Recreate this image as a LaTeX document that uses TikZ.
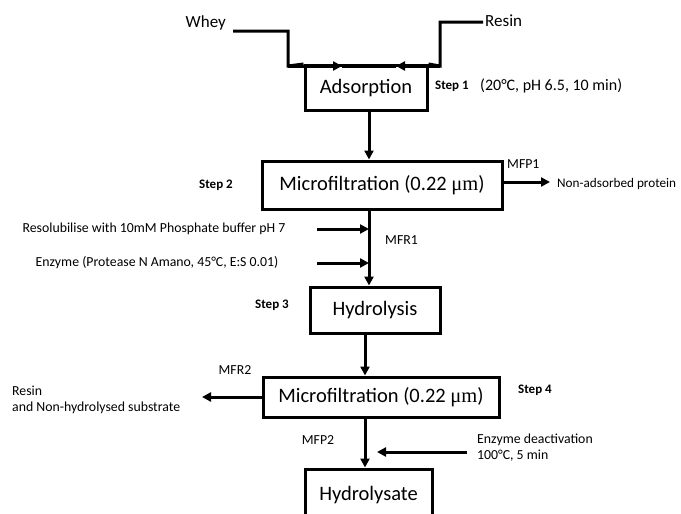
\documentclass[tikz,border=0pt]{standalone}
\usepackage{fontspec}
\setmainfont{Carlito}
\newfontfamily\serifmu{Liberation Serif}
\usetikzlibrary{arrows.meta}
\begin{document}
\begin{tikzpicture}[x=1pt,y=-1pt,
  box/.style={draw,line width=3pt,inner sep=0pt,font=\fontsize{20.5}{22}\selectfont},
  side/.style={inner sep=0pt,font=\fontsize{13.8}{16}\selectfont},
  steplbl/.style={inner sep=0pt,font=\bfseries\fontsize{13}{15}\selectfont},
  line/.style={line width=3pt},
  arr/.style={line width=3pt,-{Triangle[length=9pt,width=9pt]}}]
\useasboundingbox (0,0) rectangle (681,514);
% axes
\coordinate (axA) at (369,0);
\coordinate (axB) at (365,0);
% boxes
\node[box,minimum width=122,minimum height=45] (ads) at (366,88) {Adsorption};
\node[box,minimum width=240,minimum height=48] (mf1) at (382,185) {Microfiltration (0.22 {\serifmu μm})};
\node[box,minimum width=130,minimum height=46] (hyd) at (375,310) {Hydrolysis};
\node[box,minimum width=236,minimum height=40] (mf2) at (381,397) {Microfiltration (0.22 {\serifmu μm})};
\node[box,minimum width=127,minimum height=60] (hl) at (368.5,499) {};
\node[inner sep=0pt,font=\fontsize{20.5}{22}\selectfont] (hltxt) at (368.5,495) {Hydrolysate};
% inputs
\node[side,font=\fontsize{17}{19}\selectfont,anchor=east] (whey) at (226,23) {Whey};
\node[side,font=\fontsize{17}{19}\selectfont,anchor=west] (resin) at (485,21) {Resin};
\coordinate (w0) at (233,31);
\coordinate (w1) at (288,31);
\coordinate (w2) at (288,66);
\coordinate (wa) at (342,66);
\coordinate (r0) at (483,22);
\coordinate (r1) at (440,22);
\coordinate (r2) at (440,66);
\coordinate (ra) at (396,66);
\draw[line] (w0) -- (w1) -- (w2) -- (ads.north west);
\draw[arr] (w2) -- (wa);
\draw[line] (r0) -- (r1) -- (r2) -- (ads.north east);
\draw[arr] (r2) -- (ra);
\draw[line] (wa) -- (ra);
% step 1
\node[steplbl,anchor=west] (s1) at (435,86) {Step 1};
\node[side,font=\fontsize{16}{18}\selectfont,anchor=west] (cond1) at (480,86) {(20°C, pH 6.5, 10 min)};
% main flow
\draw[arr] (ads.south -| axA) -- (mf1.north -| axA);
\draw[arr] (mf1.south -| axA) -- (hyd.north -| axA);
\draw[arr] (hyd.south -| axB) -- (mf2.north -| axB);
\draw[arr] (mf2.south -| axB) -- (hl.north -| axB);
% step 2
\node[steplbl] (s2) at (216,185) {Step 2};
\node[side,anchor=west] (mfp1) at (507,164) {MFP1};
\coordinate (p1) at (550,182);
\draw[arr] (p1 -| mf1.east) -- (p1);
\node[side,font=\fontsize{13.2}{16}\selectfont,anchor=west] (nap) at (557,184) {Non-adsorbed protein};
% additions
\node[side] (resol) at (154,229) {Resolubilise with 10mM Phosphate buffer pH 7};
\node[side] (enz) at (157,263) {Enzyme (Protease N Amano, 45°C, E:S 0.01)};
\coordinate (a1) at (317,229);
\coordinate (a2) at (317,263);
\draw[arr] (a1) -- (a1 -| axA);
\draw[arr] (a2) -- (a2 -| axA);
\node[side,anchor=west] (mfr1) at (385,240) {MFR1};
% step 3
\node[steplbl] (s3) at (272,305) {Step 3};
% step 4
\node[side] (mfr2) at (235,370) {MFR2};
\node[side,align=left,anchor=west] (res2) at (12,400) {Resin\\and Non-hydrolysed substrate};
\coordinate (q1) at (202,397);
\draw[arr] (mf2.west) -- (q1);
\node[steplbl] (s4) at (535,390) {Step 4};
\node[side] (mfp2) at (318,440) {MFP2};
\coordinate (d1) at (467,452);
\coordinate (d2) at (377,452);
\draw[arr] (d1) -- (d2);
\node[side,align=left,anchor=west] (deact) at (477,448) {Enzyme deactivation\\100°C, 5 min};
\end{tikzpicture}
\end{document}
